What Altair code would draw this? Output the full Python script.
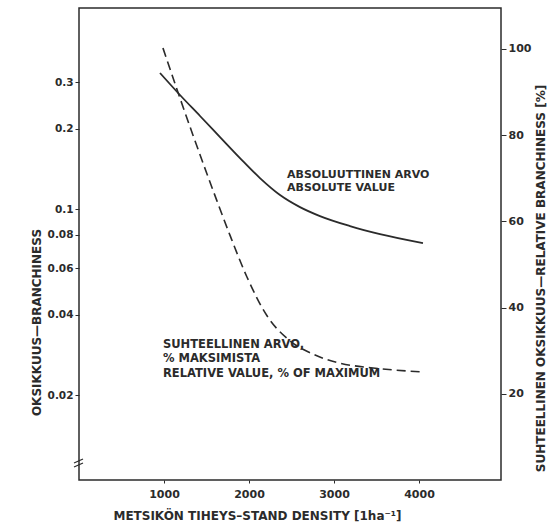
import altair as alt
import pandas as pd

# Absolute branchiness (left, log axis)
abs_density = [953, 1188, 1424, 1659, 1894, 2129, 2365, 2600, 2835, 3188, 3541, 4047]
abs_value = [0.3243, 0.2681, 0.2236, 0.1864, 0.1554, 0.1307, 0.1129, 0.1017, 0.0941, 0.0863, 0.0805, 0.0745]

# Relative branchiness, % of maximum (right axis)
rel_density = [988, 1188, 1341, 1506, 1624, 1776, 1976, 2212, 2482, 2753, 3071, 3459, 4012]
rel_value = [100.2, 88.6, 80.0, 71.0, 64.7, 56.8, 47.1, 38.1, 32.3, 29.2, 27.1, 26.0, 25.1]

x_ticks = [1000, 2000, 3000, 4000]
left_ticks = [0.02, 0.04, 0.06, 0.08, 0.1, 0.2, 0.3]
right_ticks = [20, 40, 60, 80, 100]

ann_x = [2447, 988]
ann_y = [0.141, 0.0325]
ann_text = [["ABSOLUUTTINEN ARVO", "ABSOLUTE VALUE"],
            ["SUHTEELLINEN ARVO,", "% MAKSIMISTA", "RELATIVE VALUE, % OF MAXIMUM"]]
ann_lh = [12.5, 14.5]

INK = "#2b2b2b"
FONT = "DejaVu Sans"

abs_df = pd.DataFrame({"d": abs_density, "v": abs_value})
rel_df = pd.DataFrame({"d": rel_density, "v": rel_value})

xscale = alt.Scale(domain=[0, 4965], nice=False, zero=False)
xaxis = alt.Axis(values=x_ticks, format="d", title="METSIKÖN TIHEYS–STAND DENSITY [1ha⁻¹]",
                 grid=False, domain=False, tickSize=3, tickColor=INK, labelColor=INK,
                 labelFont=FONT, labelFontWeight="bold", labelFontSize=11, labelPadding=5,
                 titleFont=FONT, titleFontWeight="bold", titleFontSize=12, titleColor=INK,
                 titleX=178, titleY=35, titleAnchor="middle", titleAlign="center", titleBaseline="middle")

left_scale = alt.Scale(type="log", domain=[0.0096, 0.569], nice=False)
left_axis = alt.Axis(values=left_ticks, format="~g", title="OKSIKKUUS—BRANCHINESS",
                     grid=False, domain=False, tickSize=4, tickColor=INK, labelColor=INK,
                     labelFont=FONT, labelFontWeight="bold", labelFontSize=10.5, labelPadding=2,
                     titleFont=FONT, titleFontWeight="bold", titleFontSize=12, titleColor=INK,
                     titleAngle=270, titleX=-43, titleY=314, titleAlign="center", titleBaseline="middle")

right_scale = alt.Scale(domain=[0, 109.5], nice=False)
right_axis = alt.Axis(values=right_ticks, orient="right", title="SUHTEELLINEN OKSIKKUUS—RELATIVE BRANCHINESS [%]",
                      grid=False, domain=False, tickSize=5, tickColor=INK, labelColor=INK,
                      labelFont=FONT, labelFontWeight="bold", labelFontSize=11, labelPadding=2,
                      titleFont=FONT, titleFontWeight="bold", titleFontSize=12, titleColor=INK,
                      titleAngle=270, titleX=39, titleY=270, titleAlign="center", titleBaseline="middle")

abs_line = alt.Chart(abs_df).mark_line(color=INK, strokeWidth=1.8, interpolate="monotone").encode(
    x=alt.X("d:Q", scale=xscale, axis=xaxis),
    y=alt.Y("v:Q", scale=left_scale, axis=left_axis),
)

ann_df = pd.DataFrame({"d": ann_x, "v": ann_y, "t": ann_text})
ann0 = alt.Chart(ann_df.iloc[[0]]).mark_text(align="left", baseline="top", font=FONT, fontWeight="bold",
                                             fontSize=11, color=INK, lineHeight=ann_lh[0]).encode(
    x=alt.X("d:Q", scale=xscale), y=alt.Y("v:Q", scale=left_scale), text="t")
ann1 = alt.Chart(ann_df.iloc[[1]]).mark_text(align="left", baseline="top", font=FONT, fontWeight="bold",
                                             fontSize=11.5, color=INK, lineHeight=ann_lh[1]).encode(
    x=alt.X("d:Q", scale=xscale), y=alt.Y("v:Q", scale=left_scale), text="t")

rel_line = alt.Chart(rel_df).mark_line(color=INK, strokeWidth=1.6, strokeDash=[9, 5], interpolate="monotone").encode(
    x=alt.X("d:Q", scale=xscale),
    y=alt.Y("v:Q", scale=right_scale, axis=right_axis),
)

# axis break marks on the left axis
brk = pd.DataFrame({"a": [0]})
brk1 = alt.Chart(brk).mark_rule(color=INK, strokeWidth=1.3).encode(
    x=alt.value(-5), x2=alt.value(4), y=alt.value(455), y2=alt.value(451))
brk2 = alt.Chart(brk).mark_rule(color=INK, strokeWidth=1.3).encode(
    x=alt.value(-5), x2=alt.value(4), y=alt.value(459), y2=alt.value(455))

left_layer = alt.layer(abs_line, ann0, ann1, brk1, brk2)
chart = alt.layer(left_layer, rel_line).resolve_scale(y="independent").properties(
    width=422, height=472,
    autosize=alt.AutoSizeParams(type="none"),
    padding={"left": 79, "top": 8, "right": 58, "bottom": 44},
    background="white",
).configure_view(stroke=INK, strokeWidth=1.5)

chart.save("out.html", embed_options={"renderer": "svg", "actions": False})
